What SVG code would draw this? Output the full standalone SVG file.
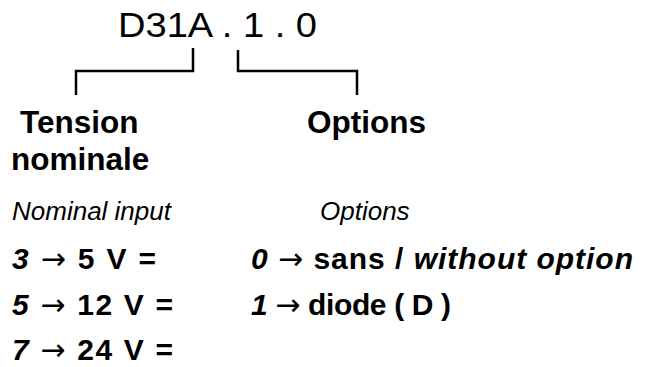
<svg xmlns="http://www.w3.org/2000/svg" width="648" height="367" viewBox="0 0 648 367">
<style>
  text { font-family: "Liberation Sans", Arial, sans-serif; fill: #000; }
  .code { font-size: 35px; }
  .head { font-size: 31.5px; font-weight: bold; }
  .sub { font-size: 26px; font-style: italic; }
  .row { font-size: 30px; font-weight: bold; }
  .it { font-style: italic; }
  .ar { font-family: "DejaVu Sans", sans-serif; font-weight: normal; font-style: normal; }
  .br { fill: none; stroke: #000; stroke-width: 2.5; }
</style>
<rect width="648" height="367" fill="#fff"/>
<g id="code">
  <text class="code" x="118" y="37" textLength="199" lengthAdjust="spacingAndGlyphs">D31A . 1 . 0</text>
</g>
<g id="connectors">
  <polyline class="br" points="193,48 193,71 76,71 76,95"/>
  <polyline class="br" points="238,50 238,71 357,71 357,95"/>
</g>
<g id="tension">
  <text class="head" x="20" y="133">Tension</text>
  <text class="head" x="11" y="170">nominale</text>
</g>
<g id="options">
  <text class="head" x="307" y="133">Options</text>
</g>
<g id="legend">
  <text class="sub" x="12" y="220">Nominal input</text>
  <text class="sub" x="320" y="220">Options</text>
  <text class="row" x="12" y="269" textLength="144" lengthAdjust="spacing"><tspan class="it">3</tspan> <tspan class="ar">→</tspan> 5 V =</text>
  <text class="row" x="12" y="315" textLength="161" lengthAdjust="spacing"><tspan class="it">5</tspan> <tspan class="ar">→</tspan> 12 V =</text>
  <text class="row" x="12" y="360" textLength="161" lengthAdjust="spacing"><tspan class="it">7</tspan> <tspan class="ar">→</tspan> 24 V =</text>
  <text class="row" x="251" y="269" textLength="382" lengthAdjust="spacing"><tspan class="it">0</tspan> <tspan class="ar">→</tspan> sans / <tspan class="it">without option</tspan></text>
  <text class="row" x="251" y="315" textLength="200" lengthAdjust="spacing"><tspan class="it">1</tspan> <tspan class="ar">→</tspan> diode ( D )</text>
</g>
</svg>
